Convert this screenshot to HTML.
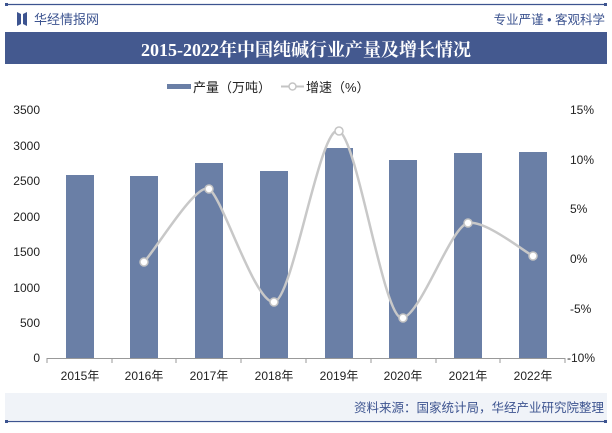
<!DOCTYPE html><html><head><meta charset="utf-8"><style>
body{margin:0;width:612px;height:428px;background:#fff;font-family:"Liberation Sans","Noto Sans CJK SC",sans-serif;overflow:hidden}
</style></head><body>
<svg width="612" height="428" xmlns="http://www.w3.org/2000/svg" font-family="Liberation Sans, Noto Sans CJK SC, sans-serif">
<line x1="6" y1="4.5" x2="606" y2="4.5" stroke="#3d5490" stroke-width="1.2"/>
<rect x="5" y="3" width="3" height="3" fill="#3d5490"/><rect x="604" y="3" width="3" height="3" fill="#3d5490"/>
<path d="M17 12 L21 14 L21 24 L17 26Z M23 14 L27 12 L27 26 L23 24Z" fill="#3d5490"/>
<text x="34" y="24" font-size="13" fill="#3d5490">华经情报网</text>
<text x="605" y="24" font-size="12.5" fill="#3d5490" text-anchor="end">专业严谨 • 客观科学</text>
<rect x="5" y="32" width="602" height="32" fill="#44598f"/>
<text x="306" y="56" font-size="18" font-weight="bold" fill="#fff" text-anchor="middle" font-family="Liberation Serif, Noto Serif CJK SC, serif">2015-2022年中国纯碱行业产量及增长情况</text>
<rect x="167" y="84" width="24" height="5" fill="#6a7fa6"/>
<text x="193" y="92" font-size="13" fill="#222">产量（万吨）</text>
<line x1="281" y1="86.5" x2="304" y2="86.5" stroke="#c4c4c4" stroke-width="2"/>
<circle cx="292.5" cy="86.5" r="3.5" fill="#fff" stroke="#c4c4c4" stroke-width="1.5"/>
<text x="306" y="92" font-size="13" fill="#222">增速（%）</text>
<g font-size="12" fill="#222">
<text x="40" y="114" text-anchor="end">3500</text>
<text x="40" y="150" text-anchor="end">3000</text>
<text x="40" y="185" text-anchor="end">2500</text>
<text x="40" y="221" text-anchor="end">2000</text>
<text x="40" y="256" text-anchor="end">1500</text>
<text x="40" y="292" text-anchor="end">1000</text>
<text x="40" y="327" text-anchor="end">500</text>
<text x="40" y="362" text-anchor="end">0</text>
<text x="570" y="114">15%</text>
<text x="570" y="164">10%</text>
<text x="570" y="213">5%</text>
<text x="570" y="263">0%</text>
<text x="570" y="313">-5%</text>
<text x="567" y="362">-10%</text>
</g>
<line x1="47" y1="358.5" x2="565" y2="358.5" stroke="#999"/>
<g stroke="#999"><line x1="47" y1="358" x2="47" y2="363"/><line x1="112" y1="358" x2="112" y2="363"/><line x1="176" y1="358" x2="176" y2="363"/><line x1="241" y1="358" x2="241" y2="363"/><line x1="306" y1="358" x2="306" y2="363"/><line x1="371" y1="358" x2="371" y2="363"/><line x1="436" y1="358" x2="436" y2="363"/><line x1="500" y1="358" x2="500" y2="363"/><line x1="565" y1="358" x2="565" y2="363"/></g>
<g fill="#6a7fa6">
<rect x="66" y="175" width="28" height="183"/>
<rect x="130" y="176" width="28" height="182"/>
<rect x="195" y="163" width="28" height="195"/>
<rect x="260" y="171" width="28" height="187"/>
<rect x="325" y="148" width="28" height="210"/>
<rect x="389" y="160" width="28" height="198"/>
<rect x="454" y="153" width="28" height="205"/>
<rect x="519" y="152" width="28" height="206"/>
</g>
<path d="M144 262 C155.7 249.8,196 182,209 189 C222 196,255 304,274 302 C293 300,320 122,339 131 C358 140,384 324,403 318 C422 312,451 226,468 223 C485 220,522 250,533 256" fill="none" stroke="#c8c8c8" stroke-width="2.5"/>
<g fill="#fff" stroke="#c4c4c4" stroke-width="1.5">
<circle cx="144" cy="262" r="4"/><circle cx="209" cy="189" r="4"/><circle cx="274" cy="302" r="4"/><circle cx="339" cy="131" r="4"/><circle cx="403" cy="318" r="4"/><circle cx="468" cy="223" r="4"/><circle cx="533" cy="256" r="4"/>
</g>
<g font-size="12" fill="#222" text-anchor="middle">
<text x="80" y="380">2015年</text><text x="144" y="380">2016年</text><text x="209" y="380">2017年</text><text x="274" y="380">2018年</text><text x="339" y="380">2019年</text><text x="403" y="380">2020年</text><text x="468" y="380">2021年</text><text x="533" y="380">2022年</text>
</g>
<rect x="5" y="393" width="602" height="27" fill="#f0f3f8"/>
<text x="604" y="412" font-size="12.5" fill="#3d5490" text-anchor="end">资料来源：国家统计局，华经产业研究院整理</text>
<line x1="6" y1="421.5" x2="606" y2="421.5" stroke="#3d5490" stroke-width="1.2"/>
<rect x="5" y="420" width="3" height="3" fill="#3d5490"/><rect x="604" y="420" width="3" height="3" fill="#3d5490"/>
</svg>
</body></html>
